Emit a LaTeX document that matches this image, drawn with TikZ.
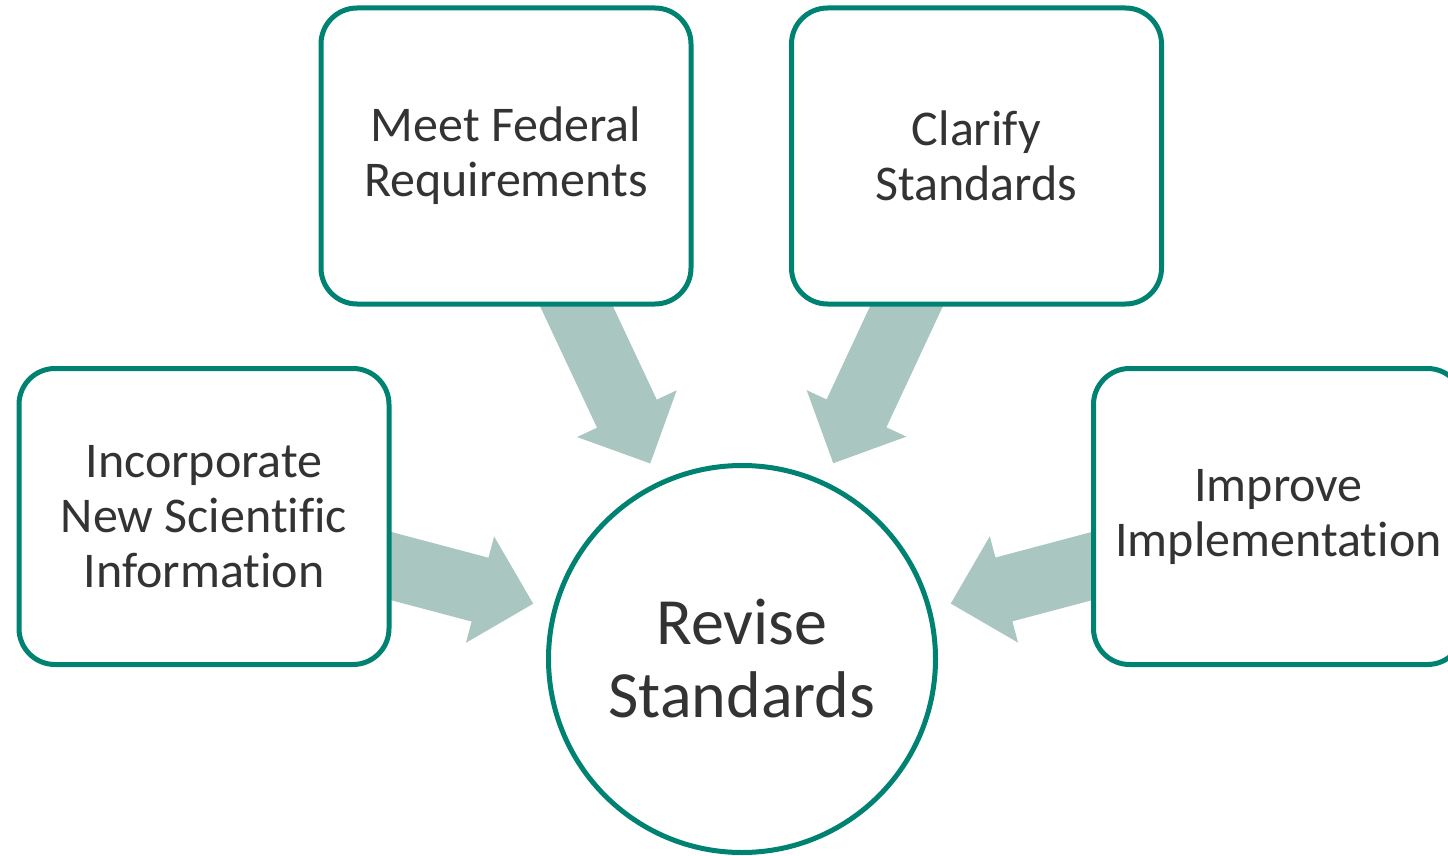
\documentclass[tikz,border=0pt]{standalone}
\usepackage{fontspec}
\setmainfont{Carlito}[Ligatures=NoCommon]
\usetikzlibrary{calc}
\definecolor{tealline}{RGB}{0,130,114}
\definecolor{arrowgray}{RGB}{170,198,192}
\definecolor{txtgray}{RGB}{51,51,51}
\pgfdeclarelayer{bg}
\pgfsetlayers{bg,main}
\tikzset{
  goalbox/.style={draw=tealline, line width=5pt, fill=white, rounded corners=36pt,
    minimum width=370pt, minimum height=296pt, inner sep=0pt, align=center,
    text=txtgray, font=\fontsize{50}{55}\selectfont},
  hub/.style={circle, draw=tealline, line width=5pt, fill=white, minimum size=387pt,
    inner sep=0pt, align=center, text=txtgray, font=\fontsize{66}{73}\selectfont},
  blockarrow/.style={fill=arrowgray, draw=none},
}
\newcommand{\feedarrow}[3]{%
  \coordinate (#3tip) at ($(#2.center)!216pt!(#1.center)$);
  \coordinate (#3base) at ($(#3tip)!55pt!(#1.center)$);
  \fill[blockarrow] ($(#1.center)!33pt!90:(#3tip)$) -- ($(#3base)!33pt!90:(#3tip)$)
    -- ($(#3base)!55pt!90:(#3tip)$) -- (#3tip) -- ($(#3base)!55pt!-90:(#3tip)$)
    -- ($(#3base)!33pt!-90:(#3tip)$) -- ($(#1.center)!33pt!-90:(#3tip)$) -- cycle;
}
\begin{document}
\begin{tikzpicture}[x=1pt,y=-1pt]
\useasboundingbox (0,0) rectangle (1448,856);
\node[goalbox] (fed) at (506,156) {Meet Federal\\Requirements};
\node[goalbox] (clar) at (976.5,156) {Clarify\\Standards};
\node[goalbox] (inc) at (204,516.5) {Incorporate\\New Scientific\\Information};
\node[goalbox] (imp) at (1278.5,516.5) {Improve\\Implementation};
\node[hub] (rev) at (742,659) {Revise\\Standards};
\begin{pgfonlayer}{bg}
\feedarrow{inc}{rev}{a}
\feedarrow{fed}{rev}{b}
\feedarrow{clar}{rev}{c}
\feedarrow{imp}{rev}{d}
\end{pgfonlayer}
\end{tikzpicture}
\end{document}
